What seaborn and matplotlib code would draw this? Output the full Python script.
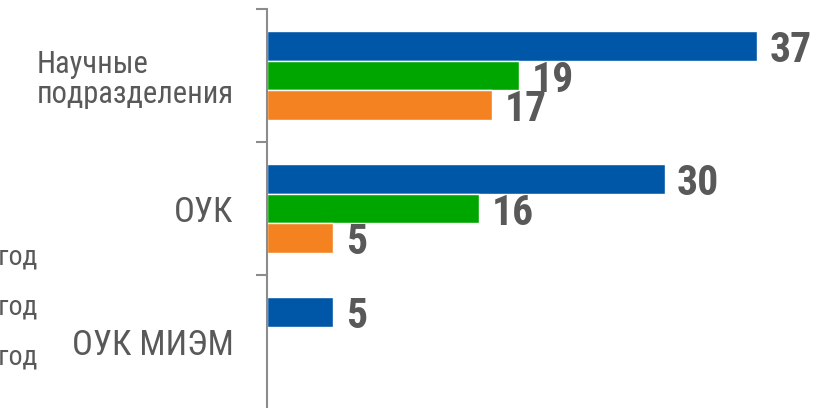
import numpy as np
import pandas as pd
import matplotlib
matplotlib.use('Agg')
import matplotlib.pyplot as plt
from matplotlib import font_manager
import seaborn as sns

# Data
categories = ['Научные\nподразделения', 'ОУК', 'ОУК МИЭМ']
series_names = ['2014 год', '2013 год', '2012 год']
values_blue = [37, 30, 5]
values_green = [19, 16, np.nan]
values_orange = [17, 5, np.nan]
colors = ['#0057A8', '#00A600', '#F58220']

rows = []
for name, vals in zip(series_names, [values_blue, values_green, values_orange]):
    for cat, v in zip(categories, vals):
        rows.append({'category': cat, 'series': name, 'value': v})
df = pd.DataFrame(rows)

# condensed font, Arial Narrow look
installed = set(f.name for f in font_manager.fontManager.ttflist)
narrow = 'Liberation Sans'
for cand in ['Liberation Sans Narrow', 'Arial Narrow', 'Roboto Condensed',
             'PT Sans Narrow', 'Open Sans Condensed', 'Fira Sans Condensed']:
    if cand in installed:
        narrow = cand
        break

sns.set_style('white')
plt.rcParams['font.family'] = [narrow, 'Liberation Sans', 'DejaVu Sans']

fig = plt.figure(figsize=(8.17, 4.08), dpi=100)
ax = fig.add_axes([267 / 817, 0.0, 550 / 817, 399 / 408])

sns.barplot(data=df, y='category', x='value', hue='series', order=categories,
            hue_order=series_names, palette=colors, width=0.665, orient='h',
            saturation=1, legend=False, ax=ax)

# Value labels (missing bars are None in the containers)
for cont, vals in zip(ax.containers, [values_blue, values_green, values_orange]):
    for bar, v in zip(cont, vals):
        if bar is None or np.isnan(v):
            continue
        yc = bar.get_y() + bar.get_height() / 2
        ax.annotate(f'{int(v)}', (bar.get_width(), yc), xytext=(9, 0),
                    textcoords='offset points', ha='left', va='center_baseline',
                    fontsize=30, fontweight='bold', color='#595959',
                    annotation_clip=False)

ax.set_xlim(0, 41.5)
ax.set_ylim(2.5, -0.5)
ax.set_xlabel('')
ax.set_ylabel('')
ax.set_xticks([])

for s in ['top', 'right', 'bottom']:
    ax.spines[s].set_visible(False)
ax.spines['left'].set_color('#8c8c8c')
ax.spines['left'].set_linewidth(1.5)

ax.set_yticks([0, 1, 2])
ax.set_yticklabels(categories, fontsize=25, color='#595959', linespacing=1.05)
ax.tick_params(axis='y', which='major', length=0, pad=24)
ax.set_yticks([-0.5, 0.5, 1.5], minor=True)
ax.tick_params(axis='y', which='minor', length=8, width=1.5, color='#8c8c8c', left=True)
first = ax.get_yticklabels()[0]
first.set_multialignment('left')
first.set_fontsize(22)

# Legend text, cut by the left edge like in the source
for name, yy in zip(series_names[::-1], [257, 307, 357]):
    fig.text(37 / 817, 1 - yy / 408, name, ha='right', va='center',
             fontsize=20, color='#595959')

fig.savefig('out.png', dpi=100)
